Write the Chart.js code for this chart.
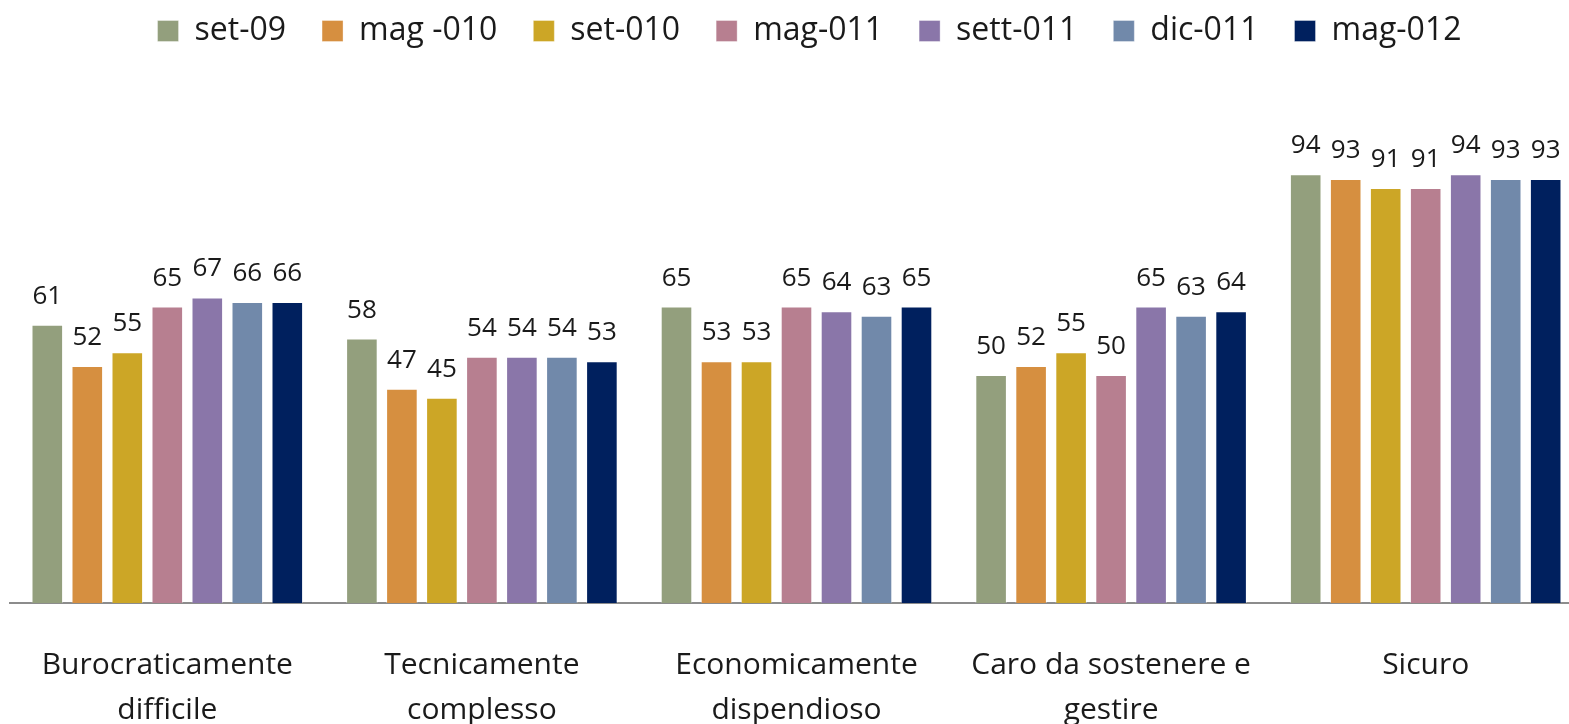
<!DOCTYPE html>
<html>
<head>
<meta charset="utf-8">
<script src="https://cdn.jsdelivr.net/npm/chart.js@4.4.0/dist/chart.umd.min.js"></script>
<style>
  body { margin: 0; overflow: hidden; background: #fff; }
  #wrap { position: absolute; left: 0; top: 0; width: 1583px; height: 724px; }
</style>
</head>
<body>
<div id="wrap"><canvas id="myChart"></canvas></div>
<script>
// dati
var categorie = [
    ['Burocraticamente', 'difficile'],
    ['Tecnicamente', 'complesso'],
    ['Economicamente', 'dispendioso'],
    ['Caro da sostenere e', 'gestire'],
    'Sicuro'
];
var serie = ['set-09', 'mag -010', 'set-010', 'mag-011', 'sett-011', 'dic-011', 'mag-012'];
var set09 = [61, 58, 65, 50, 94];
var mag010 = [52, 47, 53, 52, 93];
var set010 = [55, 45, 53, 55, 91];
var mag011 = [65, 54, 65, 50, 91];
var sett011 = [67, 54, 64, 65, 94];
var dic011 = [66, 54, 63, 63, 93];
var mag012 = [66, 53, 65, 64, 93];
var colori = ['#939f7d', '#d68f40', '#cca626', '#b77f90', '#8a76a9', '#7189aa', '#00205e'];

var fontFamily = "'Open Sans', sans-serif";

var valori = [set09, mag010, set010, mag011, sett011, dic011, mag012];
var datasets = valori.map(function(v, i) {
    return {
        label: serie[i],
        data: v,
        backgroundColor: colori[i],
        borderColor: 'rgba(255,255,255,0.35)',
        borderWidth: 1,
        categoryPercentage: 0.89,
        barPercentage: 0.79
    };
});

// etichette sopra le barre
var etichette = {
    id: 'etichette',
    afterDatasetsDraw: function(chart) {
        var ctx = chart.ctx;
        ctx.save();
        ctx.font = '26px ' + fontFamily;
        ctx.fillStyle = '#1a1a1a';
        ctx.textAlign = 'center';
        ctx.textBaseline = 'alphabetic';
        chart.data.datasets.forEach(function(ds, i) {
            var meta = chart.getDatasetMeta(i);
            meta.data.forEach(function(bar, j) {
                ctx.fillText(ds.data[j], bar.x, bar.y - 21);
            });
        });
        ctx.restore();
    }
};

// spazio sotto la legenda e piccolo spostamento
var margineLegenda = {
    id: 'margineLegenda',
    beforeInit: function(chart) {
        var fitOrig = chart.legend.fit;
        chart.legend.fit = function() {
            fitOrig.bind(chart.legend)();
            this.height = 147;
        };
    },
    afterLayout: function(chart) {
        chart.legend.left += 26;
        chart.legend.top -= 21;
    }
};

var ctx = document.getElementById('myChart').getContext('2d');
var miGrafico = new Chart(ctx, {
    type: 'bar',
    data: {
        labels: categorie,
        datasets: datasets
    },
    options: {
        responsive: true,
        maintainAspectRatio: false,
        animation: false,
        layout: { padding: { left: 10, right: 0, top: 0, bottom: -49 } },
        plugins: {
            legend: {
                position: 'top',
                labels: {
                    font: { family: fontFamily, size: 32 },
                    color: '#1a1a1a',
                    boxWidth: 21,
                    boxHeight: 21,
                    padding: 36
                }
            },
            tooltip: { enabled: false }
        },
        scales: {
            y: {
                display: false,
                min: 0,
                max: 100
            },
            x: {
                grid: { display: false, drawTicks: false },
                border: { display: true, color: '#8c8c8c', width: 2 },
                ticks: {
                    color: '#1a1a1a',
                    font: { family: fontFamily, size: 30, lineHeight: 1.5 },
                    padding: 40,
                    maxRotation: 0,
                    autoSkip: false
                },
                afterFit: function(scale) {
                    scale.paddingLeft = 0;
                    scale.paddingRight = 0;
                }
            }
        }
    },
    plugins: [etichette, margineLegenda]
});
</script>
</body>
</html>
